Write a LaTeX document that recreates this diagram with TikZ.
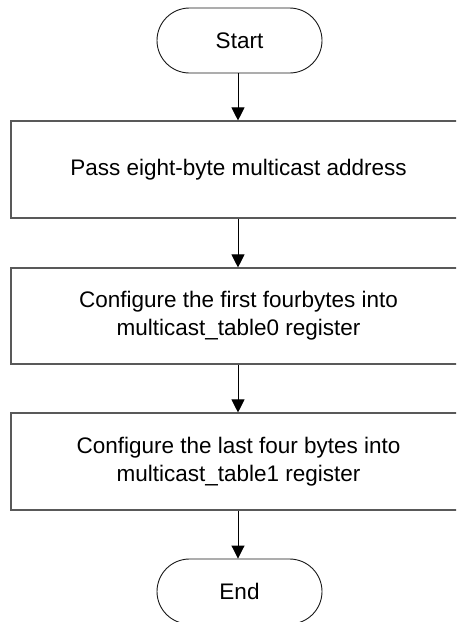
\documentclass[tikz,border=0pt]{standalone}
\usepackage{fontspec}
\setmainfont{Liberation Sans}
\usetikzlibrary{arrows.meta}
\begin{document}
\begin{tikzpicture}[x=1pt,y=-1pt,
  every node/.style={font=\fontsize{22.5}{28}\selectfont, text=black},
  terminal/.style={draw=black!90, line width=0.9pt, rounded corners=32.5pt,
    minimum width=165pt, minimum height=65pt, inner sep=0pt},
  stepbox/.style={draw=black!65, line width=1.1pt, minimum width=455pt,
    inner sep=0pt, align=center},
  flow/.style={draw=black, line width=0.9pt, -{Triangle[width=13pt,length=13pt]}}
]
\useasboundingbox (0,0) rectangle (456,622);
\clip (0,0) rectangle (456,622);
\fill[white] (0,0) rectangle (456,622);

\node[terminal] (start) at (239.5,40.5) {Start};
\node[stepbox, minimum height=97pt] (pass) at (238.5,169.5) {Pass eight-byte multicast address};
\node[stepbox, minimum height=96pt] (first) at (238.5,316) {Configure the first fourbytes into\\multicast\_table0 register};
\node[stepbox, minimum height=97pt] (last) at (238.5,461.5) {Configure the last four bytes into\\multicast\_table1 register};
\node[terminal] (end) at (239.5,591.5) {End};

\draw[flow] (start.south -| 238,0) -- (pass.north -| 238,0);
\draw[flow] (pass.south -| 238,0) -- (first.north -| 238,0);
\draw[flow] (first.south -| 238,0) -- (last.north -| 238,0);
\draw[flow] (last.south -| 238,0) -- (end.north -| 238,0);
\end{tikzpicture}
\end{document}
